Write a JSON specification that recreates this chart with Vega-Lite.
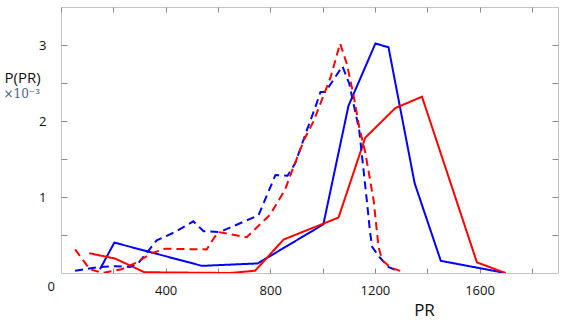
{
  "$schema": "https://vega.github.io/schema/vega-lite/v6.json",
  "autosize": "none",
  "width": 497,
  "height": 266,
  "padding": {"left": 61, "top": 7, "right": 12, "bottom": 55},
  "background": "white",
  "config": {
    "view": {"stroke": "#c4c4c4", "strokeWidth": 1},
    "axis": {"labelFont": "Open Sans", "titleFont": "Open Sans", "labelColor": "#111111", "titleColor": "#111111", "grid": false, "domain": false, "tickColor": "#8a8a8a", "tickWidth": 1}
  },
  "data": {"values": [
    {"s": "bs", "x": 149, "y": 0.05}, {"s": "bs", "x": 204, "y": 0.40}, {"s": "bs", "x": 539, "y": 0.094}, {"s": "bs", "x": 752, "y": 0.126}, {"s": "bs", "x": 1003, "y": 0.64}, {"s": "bs", "x": 1099, "y": 2.20}, {"s": "bs", "x": 1202, "y": 3.02}, {"s": "bs", "x": 1252, "y": 2.97}, {"s": "bs", "x": 1352, "y": 1.18}, {"s": "bs", "x": 1452, "y": 0.16}, {"s": "bs", "x": 1699, "y": 0.0},
    {"s": "rs", "x": 108, "y": 0.26}, {"s": "rs", "x": 207, "y": 0.19}, {"s": "rs", "x": 319, "y": 0.01}, {"s": "rs", "x": 647, "y": 0.0}, {"s": "rs", "x": 742, "y": 0.03}, {"s": "rs", "x": 851, "y": 0.44}, {"s": "rs", "x": 1061, "y": 0.73}, {"s": "rs", "x": 1163, "y": 1.78}, {"s": "rs", "x": 1278, "y": 2.17}, {"s": "rs", "x": 1380, "y": 2.32}, {"s": "rs", "x": 1590, "y": 0.14}, {"s": "rs", "x": 1699, "y": 0.0},
    {"s": "bd", "x": 54, "y": 0.03}, {"s": "bd", "x": 149, "y": 0.08}, {"s": "bd", "x": 207, "y": 0.09}, {"s": "bd", "x": 264, "y": 0.08}, {"s": "bd", "x": 296, "y": 0.13}, {"s": "bd", "x": 366, "y": 0.43}, {"s": "bd", "x": 436, "y": 0.54}, {"s": "bd", "x": 506, "y": 0.68}, {"s": "bd", "x": 545, "y": 0.55}, {"s": "bd", "x": 608, "y": 0.54}, {"s": "bd", "x": 755, "y": 0.76}, {"s": "bd", "x": 820, "y": 1.29}, {"s": "bd", "x": 866, "y": 1.28}, {"s": "bd", "x": 895, "y": 1.44}, {"s": "bd", "x": 940, "y": 1.88}, {"s": "bd", "x": 972, "y": 2.18}, {"s": "bd", "x": 992, "y": 2.38}, {"s": "bd", "x": 1010, "y": 2.38}, {"s": "bd", "x": 1076, "y": 2.72}, {"s": "bd", "x": 1102, "y": 2.49}, {"s": "bd", "x": 1140, "y": 1.88}, {"s": "bd", "x": 1169, "y": 0.96}, {"s": "bd", "x": 1182, "y": 0.52}, {"s": "bd", "x": 1190, "y": 0.34}, {"s": "bd", "x": 1220, "y": 0.2}, {"s": "bd", "x": 1252, "y": 0.08}, {"s": "bd", "x": 1290, "y": 0.02},
    {"s": "rd", "x": 54, "y": 0.31}, {"s": "rd", "x": 110, "y": 0.05}, {"s": "rd", "x": 160, "y": 0.0}, {"s": "rd", "x": 232, "y": 0.05}, {"s": "rd", "x": 283, "y": 0.13}, {"s": "rd", "x": 347, "y": 0.26}, {"s": "rd", "x": 398, "y": 0.32}, {"s": "rd", "x": 557, "y": 0.31}, {"s": "rd", "x": 600, "y": 0.54}, {"s": "rd", "x": 710, "y": 0.47}, {"s": "rd", "x": 800, "y": 0.77}, {"s": "rd", "x": 857, "y": 1.1}, {"s": "rd", "x": 885, "y": 1.36}, {"s": "rd", "x": 930, "y": 1.76}, {"s": "rd", "x": 966, "y": 2.0}, {"s": "rd", "x": 1030, "y": 2.57}, {"s": "rd", "x": 1067, "y": 3.02}, {"s": "rd", "x": 1093, "y": 2.75}, {"s": "rd", "x": 1120, "y": 2.31}, {"s": "rd", "x": 1140, "y": 1.92}, {"s": "rd", "x": 1163, "y": 1.59}, {"s": "rd", "x": 1195, "y": 0.96}, {"s": "rd", "x": 1214, "y": 0.34}, {"s": "rd", "x": 1228, "y": 0.17}, {"s": "rd", "x": 1260, "y": 0.07}, {"s": "rd", "x": 1312, "y": 0.01}
  ]},
  "layer": [
    {
      "mark": {"type": "line", "strokeWidth": 2, "clip": true},
      "encoding": {
        "x": {"field": "x", "type": "quantitative", "scale": {"domain": [0, 1900], "nice": false, "zero": false},
          "axis": {"orient": "bottom", "offset": -266, "values": [0, 200, 400, 600, 800, 1000, 1200, 1400, 1600, 1800], "format": "d",
            "labelExpr": "datum.value % 400 == 0 ? datum.label : ''",
            "labelFontSize": 13, "tickSize": 5,
            "labelPadding": {"condition": {"test": "datum.value == 0", "value": 268}, "value": 272},
            "labelOffset": {"condition": {"test": "datum.value == 0", "value": -14}, "value": 0},
            "title": "PR", "titleFontSize": 17, "titleFontWeight": "normal", "titleX": 363, "titleY": 308, "titleBaseline": "alphabetic", "titleAlign": "center"}},
        "y": {"field": "y", "type": "quantitative", "scale": {"domain": [0, 3.5], "nice": false},
          "axis": {"orient": "left", "offset": -497, "values": [0.5, 1, 1.5, 2, 2.5, 3], "format": "~g", "labelExpr": "datum.value % 1 == 0 ? datum.label : ''",
            "labelFontSize": 13, "tickSize": 6, "labelPadding": 506,
            "title": "P(PR)", "titleFontSize": 15, "titleFontWeight": "normal", "titleAngle": 0, "titleAlign": "left", "titleBaseline": "alphabetic", "titleX": -554, "titleY": 75}},
        "color": {"field": "s", "type": "nominal", "scale": {"domain": ["bs", "rs", "bd", "rd"], "range": ["#0000ff", "#ff0000", "#0000ff", "#ff0000"]}, "legend": null},
        "strokeDash": {"field": "s", "type": "nominal", "scale": {"domain": ["bs", "rs", "bd", "rd"], "range": [[1, 0], [1, 0], [8, 5], [8, 5]]}, "legend": null}
      }
    },
    {
      "mark": {"type": "line", "opacity": 0},
      "encoding": {
        "x": {"field": "x", "type": "quantitative",
          "axis": {"orient": "top", "offset": -266, "values": [200, 400, 600, 800, 1000, 1200, 1400, 1600, 1800], "labels": false, "tickSize": 5, "title": null}},
        "y": {"field": "y", "type": "quantitative",
          "axis": {"orient": "right", "offset": -497, "values": [0.5, 1, 1.5, 2, 2.5, 3], "labels": false, "tickSize": 6,
            "title": "×10⁻³", "titleFont": "DejaVu Serif", "titleColor": "#4a5f86", "titleFontSize": 12, "titleFontWeight": "normal", "titleAngle": 0, "titleAlign": "left", "titleBaseline": "alphabetic", "titleX": -58, "titleY": 90}},
        "detail": {"field": "s"}
      }
    }
  ]
}
